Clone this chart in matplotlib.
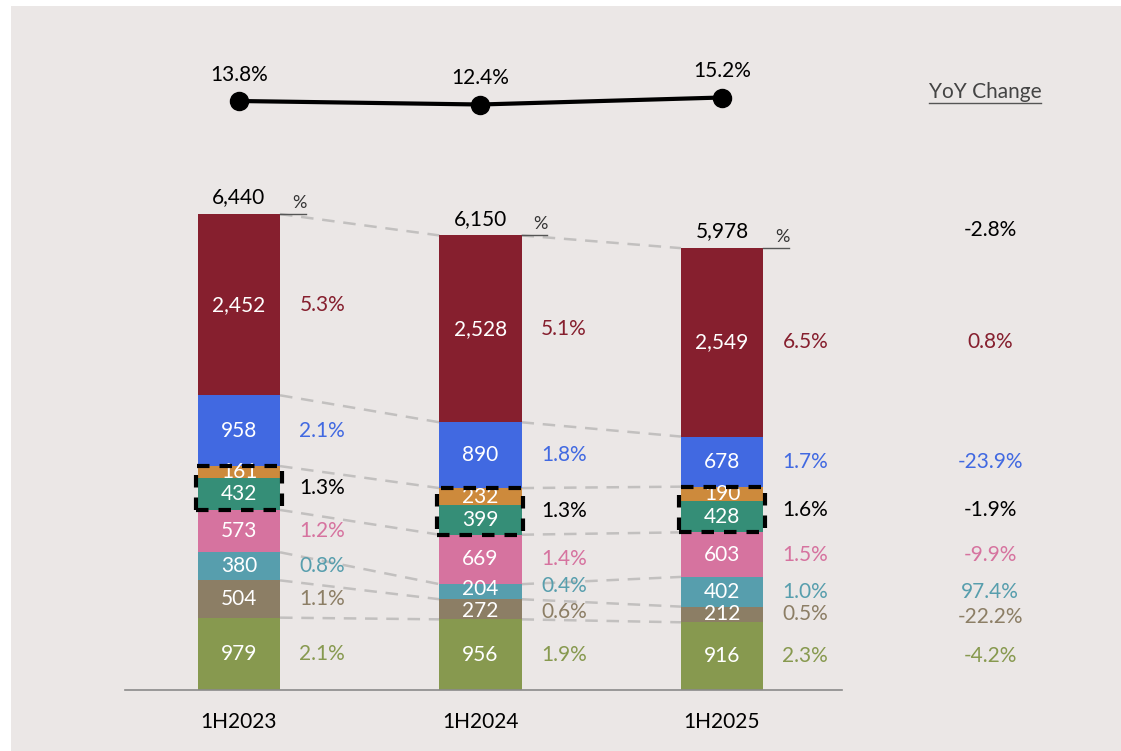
import numpy as np
import matplotlib.pyplot as plt
from matplotlib.patches import Rectangle
from matplotlib.lines import Line2D

plt.rcParams['font.family'] = ['Lato', 'DejaVu Sans']

periods = ['1H2023', '1H2024', '1H2025']

# segments, bottom to top
green = [979, 956, 916]
brown = [504, 272, 212]
teal = [380, 204, 402]
pink = [573, 669, 603]
seagreen = [432, 399, 428]
orange = [161, 232, 190]
blue = [958, 890, 678]
red = [2452, 2528, 2549]
totals = [6440, 6150, 5978]

margin = [13.8, 12.4, 15.2]

# percent labels shown next to each segment
green_pct = [2.1, 1.9, 2.3]
brown_pct = [1.1, 0.6, 0.5]
teal_pct = [0.8, 0.4, 1.0]
pink_pct = [1.2, 1.4, 1.5]
box_pct = [1.3, 1.3, 1.6]    # orange + seagreen together
blue_pct = [2.1, 1.8, 1.7]
red_pct = [5.3, 5.1, 6.5]

# YoY change column
yoy_total = -2.8
yoy_red = 0.8
yoy_blue = -23.9
yoy_box = -1.9
yoy_pink = -9.9
yoy_teal = 97.4
yoy_brown = -22.2
yoy_green = -4.2

c_green = '#87994F'
c_brown = '#8C7E65'
c_teal = '#579EAD'
c_pink = '#D6739F'
c_seagreen = '#358E77'
c_orange = '#CD8A3C'
c_blue = '#4169E1'
c_red = '#861F2E'
bg = '#EBE7E6'

segments = [green, brown, teal, pink, seagreen, orange, blue, red]
colors = [c_green, c_brown, c_teal, c_pink, c_seagreen, c_orange, c_blue, c_red]

FS = 15

fig = plt.figure(figsize=(11.21, 7.51), dpi=100, facecolor=bg)
# white strips at left and top of the original
fig.add_artist(Rectangle((0, 0), 11 / 1121, 1, transform=fig.transFigure,
                         facecolor='white', edgecolor='none'))
fig.add_artist(Rectangle((0, 745 / 751), 1, 6 / 751, transform=fig.transFigure,
                         facecolor='white', edgecolor='none'))

ax = fig.add_axes([125 / 1121, 61 / 751, 717 / 1121, 510 / 751])
ax.set_facecolor('none')
xlim = (-0.472, 2.497)
ax.set_xlim(*xlim)
ax.set_ylim(0, 6900)

x = np.arange(len(periods))
w = 0.34
bottom = np.zeros(3)
cums = [bottom.copy()]
for vals, col in zip(segments, colors):
    vals = np.array(vals, dtype=float)
    ax.bar(x, vals, w, bottom=bottom, color=col, zorder=2)
    bottom = bottom + vals
    cums.append(bottom.copy())
cums = np.array(cums)  # 9 x 3

# small vertical nudges (points) for crowded thin segments: (segment, bar)
val_nudge = {(2, 1): 2, (1, 1): -1.5}
pct_nudge = {(2, 1): 4, (1, 1): -2}

# value labels inside bars
for k, vals in enumerate(segments):
    mids = cums[k] + np.array(vals) / 2
    for i in range(3):
        ax.annotate(f'{vals[i]:,}', (x[i], mids[i]),
                    xytext=(0, val_nudge.get((k, i), 0)), textcoords='offset points',
                    ha='center', va='center', color='white', fontsize=FS, zorder=4)

# dashed box around orange + seagreen
for i in range(3):
    ax.add_patch(Rectangle((x[i] - w / 2 - 0.008, cums[4][i]), w + 0.016,
                           cums[6][i] - cums[4][i], fill=False, edgecolor='black',
                           lw=3, linestyle=(0, (3, 2.4)), zorder=5))

# connectors between bars (skip orange/seagreen boundary)
for k in [1, 2, 3, 4, 6, 7, 8]:
    for i in range(2):
        ax.plot([x[i] + w / 2, x[i + 1] - w / 2], [cums[k][i], cums[k][i + 1]],
                color='#C2C0BF', lw=1.8, linestyle=(0, (5, 3.5)), zorder=1)

# percent labels right of each bar
pct_rows = [
    (0, green_pct, cums[0] + np.array(green) / 2, c_green),
    (1, brown_pct, cums[1] + np.array(brown) / 2, c_brown),
    (2, teal_pct, cums[2] + np.array(teal) / 2, c_teal),
    (3, pink_pct, cums[3] + np.array(pink) / 2, c_pink),
    (4, box_pct, (cums[4] + cums[6]) / 2, 'black'),
    (6, blue_pct, cums[6] + np.array(blue) / 2, c_blue),
    (7, red_pct, cums[7] + np.array(red) / 2, c_red),
]
for k, vals, ys, col in pct_rows:
    for i in range(3):
        ax.annotate(f'{vals[i]:.1f}%', (x[i] + 0.345, ys[i]),
                    xytext=(0, pct_nudge.get((k, i), 0)), textcoords='offset points',
                    ha='center', va='center', color=col, fontsize=FS, zorder=4)

# totals and small % header
for i in range(3):
    ax.annotate(f'{totals[i]:,}', (x[i], totals[i]), xytext=(0, 12),
                textcoords='offset points', ha='center', va='center', fontsize=FS)
    ax.plot([x[i] + w / 2, x[i] + w / 2 + 0.107], [totals[i], totals[i]],
            color='#555555', lw=1, zorder=3)
    ax.annotate('%', (x[i] + w / 2 + 0.08, totals[i]), xytext=(0, 8),
                textcoords='offset points', ha='center', va='center',
                fontsize=13, color='#333333')

# YoY column
yoy_x = 3.11
yoy_rows = [
    (yoy_total, totals[2], 'black'),
    (yoy_red, cums[7][2] + red[2] / 2, c_red),
    (yoy_blue, cums[6][2] + blue[2] / 2, c_blue),
    (yoy_box, (cums[4][2] + cums[6][2]) / 2, 'black'),
    (yoy_pink, cums[3][2] + pink[2] / 2, c_pink),
    (yoy_teal, cums[2][2] + teal[2] / 2, c_teal),
    (yoy_brown, cums[1][2] + brown[2] / 2, c_brown),
    (yoy_green, cums[0][2] + green[2] / 2, c_green),
]
for j, (v, yy, col) in enumerate(yoy_rows):
    dy = 13 if j == 0 else (-2 if j == 6 else 0)
    ax.annotate(f'{v:.1f}%', (yoy_x, yy), xytext=(0, dy),
                textcoords='offset points', ha='center', va='center',
                fontsize=FS, color=col, annotation_clip=False)

hdr = fig.text(985 / 1121, 1 - 92 / 751, 'YoY Change', ha='center', va='center',
               fontsize=FS, color='#444444')
fig.canvas.draw()
bb = hdr.get_window_extent().transformed(fig.transFigure.inverted())
fig.add_artist(Line2D([bb.x0, bb.x1], [1 - 103 / 751, 1 - 103 / 751],
                      transform=fig.transFigure, color='#555555', lw=1))

# axes styling
ax.set_xticks(x, periods)
ax.tick_params(axis='x', length=0, pad=16, labelsize=FS)
ax.set_yticks([])
for s in ['top', 'left', 'right']:
    ax.spines[s].set_visible(False)
ax.spines['bottom'].set_color('#8A8A8A')
ax.spines['bottom'].set_linewidth(1.2)

# margin line on top
lax = fig.add_axes([125 / 1121, (751 - 135.5) / 751, 717 / 1121, 75.5 / 751])
lax.set_facecolor('none')
lax.set_xlim(*xlim)
lax.set_ylim(0, 30.2)
lax.axis('off')
lax.plot(x, margin, color='black', lw=3, marker='o', markersize=13, clip_on=False)
for i in range(3):
    lax.annotate(f'{margin[i]:.1f}%', (x[i], margin[i]), xytext=(0, 19),
                 textcoords='offset points', ha='center', va='center', fontsize=FS)

fig.savefig('out.png', dpi=100)
